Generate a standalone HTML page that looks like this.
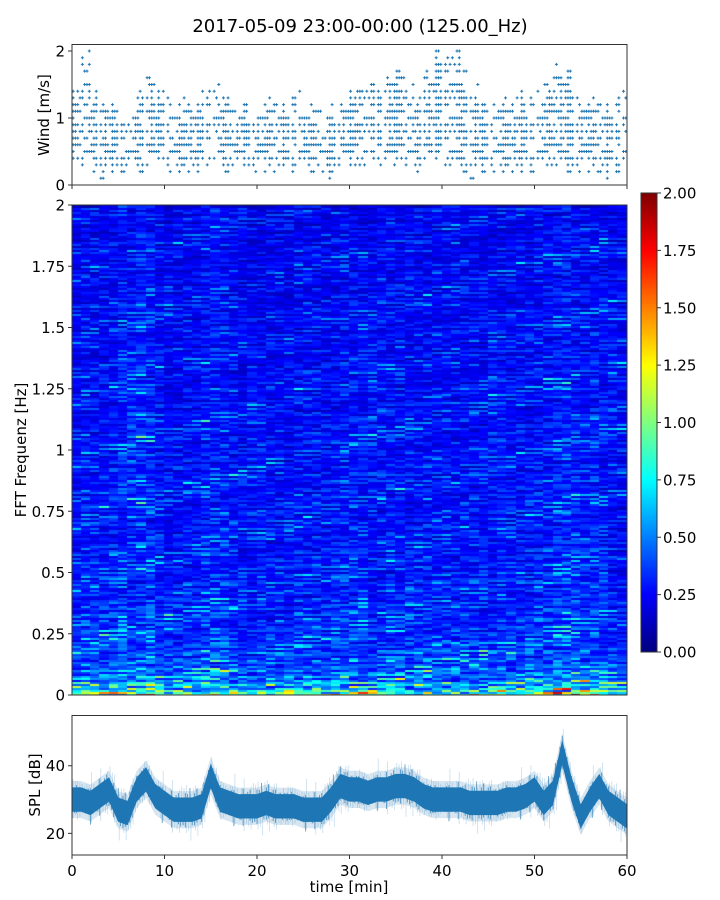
<!DOCTYPE html>
<html><head><meta charset="utf-8"><style>
body{margin:0;background:#fff;width:720px;height:900px;overflow:hidden;position:relative;font-family:"Liberation Sans","DejaVu Sans",sans-serif}
#hm{position:absolute;left:72px;top:205px}
#cb{position:absolute;left:641px;top:193px}
svg{position:absolute;left:0;top:0}
text{font-family:"DejaVu Sans","Liberation Sans",sans-serif;fill:#000}
</style></head><body>
<canvas id="hm" width="555" height="490"></canvas>
<canvas id="cb" width="16" height="459"></canvas>
<svg id="s" width="720" height="900"></svg>
<script>
// ---- data ----
const windHi=[1.4,2.0,1.4,1.3,1.2,1.1,1.0,1.4,1.7,1.4,1.3,1.2,1.3,1.2,1.4,1.5,1.3,1.1,1.2,1.1,1.2,1.3,1.2,1.3,1.4,1.2,1.1,1.0,1.2,1.3,1.4,1.6,1.6,1.5,1.7,1.7,1.5,1.3,1.7,2.0,2.0,2.0,1.7,1.5,1.2,1.2,1.3,1.2,1.4,1.3,1.4,1.5,1.8,1.7,1.3,1.3,1.3,1.2,1.2,1.5];
const windLo=[0.4,0.3,0.2,0.1,0.2,0.1,0.3,0.2,0.3,0.4,0.2,0.1,0.2,0.2,0.3,0.4,0.2,0.2,0.3,0.1,0.2,0.2,0.3,0.2,0.3,0.2,0.2,0.1,0.2,0.3,0.3,0.3,0.4,0.3,0.3,0.4,0.3,0.1,0.3,0.4,0.3,0.2,0.2,0.1,0.2,0.2,0.1,0.2,0.2,0.2,0.2,0.3,0.2,0.2,0.1,0.2,0.2,0.1,0.2,0.2];
const splMin=[30,30,29,31,33,27,26,33,36,31,29,27,27,27,28,37,30,29,28,28,28,29,28,28,28,27,27,27,30,34,33,33,32,33,33,34,34,33,31,30,30,30,30,29,29,29,29,30,30,31,33,29,32,44,33,25,30,34,29,27,25];
const colLevel=[1.0,1.05,1.0,1.0,1.05,1.15,1.15,1.25,1.2,1.0,0.95,0.95,1.0,1.0,1.1,1.15,1.1,1.0,0.95,0.95,0.95,0.95,0.95,0.95,1.0,1.0,1.0,0.95,1.0,1.05,1.05,1.05,1.0,1.05,1.05,1.0,1.0,1.0,1.0,1.0,1.0,1.0,1.0,1.0,1.0,1.0,1.0,1.0,1.0,1.0,1.05,1.05,1.15,1.2,1.1,1.05,1.1,1.05,1.0,1.0];
const rowProfile=[0.65,0.5,0.43,0.4,0.38,0.36,0.35,0.34,0.33,0.32,0.32,0.31,0.31,0.31,0.3,0.3,0.3,0.3,0.29,0.29,0.29,0.29,0.29,0.28,0.28,0.28,0.28,0.27,0.27,0.27,0.27,0.27,0.26,0.26,0.26,0.26,0.26,0.25,0.25,0.25];
const texture=[1.0,0.6,1.3,0.9,0.5,1.1,1.6,0.8,0.7,1.2,1.0,0.4,1.3,0.9,1.1,0.7,1.8,0.8,1.0,0.6,1.2,0.9,1.4,0.5,1.0,1.1,0.8,1.3,0.7,0.9,1.2];
const windTicks=[0,1,2], freqTicks=[0,0.25,0.5,0.75,1,1.25,1.5,1.75,2], freqLabels=["0","0.25","0.5","0.75","1","1.25","1.5","1.75","2"];
const splTicks=[20,40], timeTicks=[0,10,20,30,40,50,60], cbTicks=[0,0.25,0.5,0.75,1,1.25,1.5,1.75,2];
// ---- scales ----
const X=t=>72+t*555/60;
const YW=v=>185-v*67;
const YF=f=>695-f*245;
const YS=d=>855-(d-13.6)*(139.3/41.2);
const YC=v=>652-v*229.5;
function jet(v){v=Math.max(0,Math.min(1,v));const c=x=>Math.round(255*Math.max(0,Math.min(1,1.5-Math.abs(4*v-x))));return `rgb(${c(3)},${c(2)},${c(1)})`;}
const S=document.getElementById('s');const NS='http://www.w3.org/2000/svg';
function mk(tag,at,txt){const e=document.createElementNS(NS,tag);for(const k in at)e.setAttribute(k,at[k]);if(txt!==undefined)e.textContent=txt;S.appendChild(e);return e;}
// heatmap
const hm=document.getElementById('hm').getContext('2d');
const nR=245;
for(let c=0;c<60;c++)for(let r=0;r<nR;r++){
  let base=rowProfile[Math.floor(r*40/nR)];
  if(r<3)base*=1.6-r*0.2;
  const tx=texture[(r*17+c*7+(r*c)%13)%31]*texture[(r*5+Math.floor(c/3)*11)%31];
  const v=base*colLevel[c]*(0.2+0.8*tx);
  hm.fillStyle=jet(v/2);
  const x0=X(c)-72,x1=X(c+1)-72,y0=YF((r+1)*2/nR)-205,y1=YF(r*2/nR)-205;
  hm.fillRect(Math.floor(x0),Math.floor(y0),Math.ceil(x1-x0)+1,Math.ceil(y1-y0)+1);
}
const cb=document.getElementById('cb').getContext('2d');
for(let y=0;y<459;y++){cb.fillStyle=jet(1-y/458);cb.fillRect(0,y,16,1);}
// title
let t=mk('text',{x:360,y:32,'text-anchor':'middle','font-size':18},'2017-05-09 23:00-00:00 (125.00_Hz)');

// wind scatter
let g=mk('g',{fill:'none',stroke:'#1f77b4','stroke-width':1});

for(let m=0;m<60;m++){const lo=Math.round(windLo[m]*10),hi=Math.round(windHi[m]*10);
 for(let k=0;k<4;k++){const x=X(m+k/4+0.12);
  for(let s=lo;s<=hi;s++){const edge=(s-lo<2||hi-s<2);const h=(k*13+s*7+m*11+(s*m+k*s)%5)%7;
   if(edge&&h>1)continue;if(!edge&&h>3)continue;
   const y=YW(s/10);const p=document.createElementNS(NS,'path');p.setAttribute('d',`M${x-1.5} ${y}h3M${x} ${y-1.5}v3`);
   g.appendChild(p);}}}
// SPL bands
function band(w,op,name){let up='',dn='';for(let m=0;m<=60;m++){up+=(m?'L':'M')+X(m)+' '+YS(splMin[m]+w);}
 for(let m=60;m>=0;m--){dn+='L'+X(m)+' '+YS(splMin[m]-w);}
 const p=mk('path',{d:up+dn+'Z',fill:'#1f77b4','fill-opacity':op});}
band(5.5,0.18,'spl-outer-band');band(3.6,1,'spl-band');
let hg=mk('g',{stroke:'#1f77b4','stroke-width':0.8});
for(let i=0;i<240;i++){const tm=i/4,m=Math.floor(tm),f=tm-m;const mean=splMin[m]*(1-f)+splMin[Math.min(60,m+1)]*f;
 const a=texture[(i*7)%31],b=texture[(i*13+5)%31];
 const l=document.createElementNS(NS,'line');l.setAttribute('x1',X(tm));l.setAttribute('x2',X(tm));l.setAttribute('y1',YS(mean+3*a+1));l.setAttribute('y2',YS(mean-3*b-1));l.setAttribute('stroke-opacity',0.8);hg.appendChild(l);
 const l2=document.createElementNS(NS,'line');l2.setAttribute('x1',X(tm)+1);l2.setAttribute('x2',X(tm)+1);l2.setAttribute('y1',YS(mean+4.5*b+1));l2.setAttribute('y2',YS(mean-4.5*a-1));l2.setAttribute('stroke-opacity',0.25);hg.appendChild(l2);}
// axes frames
function frame(y0,y1,name){const r=mk('rect',{x:72,y:y0,width:555,height:y1-y0,fill:'none',stroke:'#333','stroke-width':1});}
frame(44.5,185,'wind-axes');frame(205,695,'spectrogram-axes');frame(715.5,855,'spl-axes');
mk('rect',{x:641,y:193,width:16,height:459,fill:'none',stroke:'#333','stroke-width':1});
function ytick(y,lab,name,x=72){mk('line',{x1:x-4,x2:x,y1:y,y2:y,stroke:'#333'});const e=mk('text',{x:x-7,y:y+5.5,'text-anchor':'end','font-size':15},lab);}
windTicks.forEach(v=>ytick(YW(v),String(v),'wind-tick-label'));
freqTicks.forEach((v,i)=>ytick(YF(v),freqLabels[i],'freq-tick-label'));
splTicks.forEach(v=>ytick(YS(v),String(v),'spl-tick-label'));
timeTicks.forEach(v=>{mk('line',{x1:X(v),x2:X(v),y1:185,y2:189,stroke:'#333'});mk('line',{x1:X(v),x2:X(v),y1:855,y2:859,stroke:'#333'});
 const e=mk('text',{x:X(v),y:876,'text-anchor':'middle','font-size':15},String(v));});
cbTicks.forEach(v=>{mk('line',{x1:657,x2:661,y1:YC(v),y2:YC(v),stroke:'#333'});const e=mk('text',{x:663,y:YC(v)+5.5,'font-size':15},v.toFixed(2));});
function ylab(x,y,s,name){const e=mk('text',{x:x,y:y,'text-anchor':'middle','font-size':15,transform:`rotate(-90 ${x} ${y})`},s);}
ylab(49,115,'Wind [m/s]','wind-axis-title');ylab(26,450,'FFT Frequenz [Hz]','freq-axis-title');ylab(40,785,'SPL [dB]','spl-axis-title');
t=mk('text',{x:349,y:892,'text-anchor':'middle','font-size':15},'time [min]');
</script></body></html>
